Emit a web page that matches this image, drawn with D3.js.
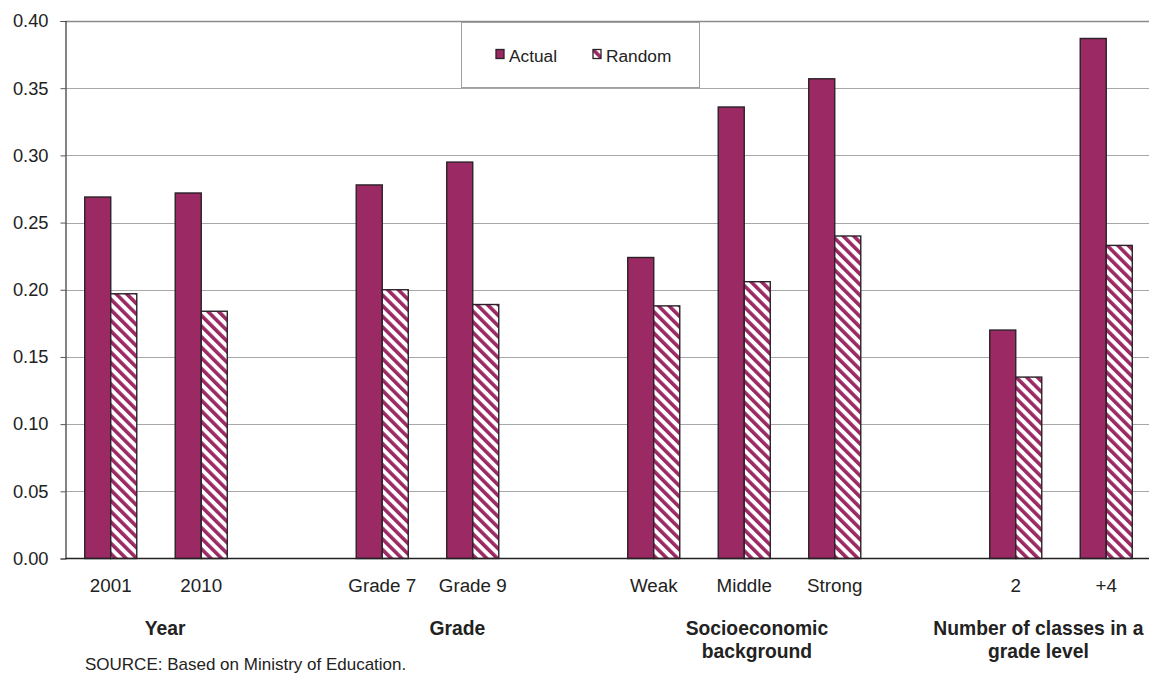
<!DOCTYPE html>
<html>
<head>
<meta charset="utf-8">
<script src="https://cdn.jsdelivr.net/npm/d3@7"></script>
<style>
  html, body { margin: 0; padding: 0; background: #fff; }
  svg { display: block; font-family: "Liberation Sans", Arial, sans-serif; }
</style>
</head>
<body>
<svg id="chart" width="1149" height="674"></svg>
<script>
// ---- data ----
const categories = ["2001", "2010", "", "Grade 7", "Grade 9", "", "Weak", "Middle", "Strong", "", "2", "+4"];
const actualValues = [0.269, 0.272, null, 0.278, 0.295, null, 0.224, 0.336, 0.357, null, 0.170, 0.387];
const randomValues = [0.197, 0.184, null, 0.200, 0.189, null, 0.188, 0.206, 0.240, null, 0.135, 0.233];
const seriesNames = ["Actual", "Random"];
const yTickValues = [0, 0.05, 0.10, 0.15, 0.20, 0.25, 0.30, 0.35, 0.40];
const groupLabels = [["Year"], ["Grade"], ["Socioeconomic", "background"], ["Number of classes in a", "grade level"]];
const sourceText = "SOURCE: Based on Ministry of Education.";

(function () {
// ---- layout ----
const svg = d3.select("#chart");
const plotLeft = 65.5, plotRight = 1151.5, plotTop = 21, plotBottom = 558.5;
const magenta = "#9B2963";

const x = d3.scaleBand()
  .domain(d3.range(categories.length))
  .range([plotLeft, plotRight])
  .paddingInner(0.425)
  .paddingOuter(0.2125);
const xs = d3.scaleBand().domain(seriesNames).range([0, x.bandwidth()]);
const y = d3.scaleLinear().domain([0, 0.40]).range([plotBottom, plotTop]);

// hatch pattern
const defs = svg.append("defs");
const pat = defs.append("pattern")
  .attr("id", "hatch")
  .attr("patternUnits", "userSpaceOnUse")
  .attr("width", 7.5).attr("height", 7.5)
  .attr("patternTransform", "rotate(-45)");
pat.append("rect").attr("width", 7.5).attr("height", 7.5).attr("fill", "#fff");
pat.append("rect").attr("width", 3.6).attr("height", 7.5).attr("fill", magenta);

// grid lines
svg.append("g").selectAll("line")
  .data(yTickValues.filter(d => d > 0))
  .join("line")
  .attr("x1", plotLeft).attr("x2", 1149)
  .attr("y1", d => Math.round(y(d)) + 0.5).attr("y2", d => Math.round(y(d)) + 0.5)
  .attr("stroke", d => d === 0.40 ? "#8a8a8a" : "#a8a8a8")
  .attr("stroke-width", d => d === 0.40 ? 1.6 : 1);

// y axis
const yAxis = svg.append("g")
  .attr("transform", `translate(${plotLeft},0)`)
  .call(d3.axisLeft(y).tickValues(yTickValues).tickFormat(d3.format(".2f")).tickSize(5).tickPadding(12));
yAxis.select(".domain").attr("stroke", "#333").attr("stroke-width", 1.2);
yAxis.selectAll(".tick line").attr("stroke", "#555");
yAxis.selectAll(".tick text").attr("font-size", 18.3).attr("fill", "#222")
  .attr("font-family", "Liberation Sans, Arial, sans-serif");

// bars
const rows = categories.map((c, i) => ({ i, vals: [actualValues[i], randomValues[i]] }));
const barG = svg.append("g");
rows.forEach(r => {
  r.vals.forEach((v, k) => {
    if (v == null) return;
    barG.append("rect")
      .attr("x", x(r.i) + xs(seriesNames[k]))
      .attr("y", y(v))
      .attr("width", xs.bandwidth())
      .attr("height", y(0) - y(v))
      .attr("fill", k === 0 ? magenta : "url(#hatch)")
      .attr("stroke", "#2a2228")
      .attr("stroke-width", 1.4);
  });
});

// x axis
const xAxis = svg.append("g")
  .attr("transform", `translate(0,${plotBottom})`)
  .call(d3.axisBottom(x).tickFormat(i => categories[i]).tickSize(0).tickPadding(20));
xAxis.select(".domain").attr("stroke", "#222").attr("stroke-width", 1.3).attr("d", `M${plotLeft},0H1149`);
xAxis.selectAll(".tick text").attr("font-size", 18.8).attr("fill", "#222")
  .attr("font-family", "Liberation Sans, Arial, sans-serif");

// group labels (positioned relative to category slots)
const step = x.step();
const groupAnchors = [
  x(0) + x.bandwidth() / 2 + step * 0.6,
  x(3) + x.bandwidth() / 2 + step * 0.83,
  x(7) + x.bandwidth() / 2 + step * 0.14,
  x(10) + x.bandwidth() / 2 + step * 0.25
];
groupLabels.forEach((lines, gi) => {
  const t = svg.append("text")
    .attr("x", groupAnchors[gi]).attr("y", 635)
    .attr("text-anchor", "middle")
    .attr("font-size", 19.3).attr("font-weight", "bold").attr("fill", "#222");
  lines.forEach((ln, li) => {
    t.append("tspan").attr("x", groupAnchors[gi]).attr("dy", li === 0 ? 0 : 22.5).text(ln);
  });
});

// source
svg.append("text")
  .attr("x", 85).attr("y", 670)
  .attr("font-size", 17).attr("fill", "#222")
  .text(sourceText);

// legend
const lg = svg.append("g");
lg.append("rect")
  .attr("x", 461.5).attr("y", 22.5).attr("width", 238).attr("height", 65)
  .attr("fill", "#fff").attr("stroke", "#a0a0a0").attr("stroke-width", 1);
const legendX = d3.scaleOrdinal().domain(seriesNames).range([496, 593]);
seriesNames.forEach((s, k) => {
  lg.append("rect")
    .attr("x", legendX(s)).attr("y", 49.5).attr("width", 8).attr("height", 9)
    .attr("fill", k === 0 ? magenta : "url(#hatch)")
    .attr("stroke", "#2a2228").attr("stroke-width", 1.3);
  lg.append("text")
    .attr("x", legendX(s) + 13).attr("y", 61.5)
    .attr("font-size", 17.3).attr("fill", "#222")
    .text(s);
});
})();
</script>
</body>
</html>
